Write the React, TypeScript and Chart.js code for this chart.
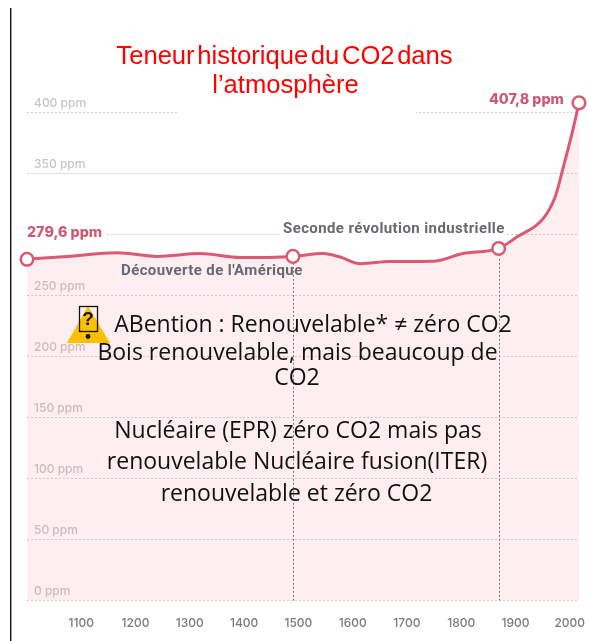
import React, { useEffect, useRef } from "react";
import { Chart, registerables } from "chart.js";

Chart.register(...registerables);

const years = [1000, 1074, 1166, 1240, 1319, 1393, 1490, 1546, 1577, 1614, 1669, 1748, 1803, 1869, 1903, 1951, 1973, 1988, 2004, 2017];
const ppm = [279.6, 282, 285, 282, 284.3, 281, 282, 284.3, 281.5, 276, 277.8, 278, 284.3, 288.5, 298, 313, 330.7, 355, 382.6, 407.8];
const markedYears = [1000, 1490, 1869, 2017];
const dropYears = [1490, 1869];
const xTicks = [1100, 1200, 1300, 1400, 1500, 1600, 1700, 1800, 1900, 2000];
const titleLines = ["Teneur historique du CO2 dans", "l’atmosphère"];
const noteLines = [
  "ABention : Renouvelable* ≠ zéro CO2",
  "Bois renouvelable, mais beaucoup de",
  "CO2",
  "Nucléaire (EPR) zéro CO2 mais pas",
  "renouvelable Nucléaire fusion(ITER)",
  "renouvelable et zéro CO2",
];
const startLabel = "279,6 ppm";
const endLabel = "407,8 ppm";
const eventLabels = ["Découverte de l'Amérique", "Seconde révolution industrielle"];

const LINE = "#d95a72";
const overlay = {
  id: "overlay",
  beforeDatasetsDraw(chart: any) {
    const { ctx, scales } = chart;
    const { x, y } = scales;
    ctx.save();
    // gaps of the gridlines around the pasted title and labels
    ctx.fillStyle = "#fff";
    ctx.fillRect(177, y.getPixelForValue(400) - 2, 239, 4);
    ctx.fillRect(26, y.getPixelForValue(300) - 2, 79, 4);
    ctx.fillRect(280, y.getPixelForValue(300) - 2, 227, 4);
    ctx.fillRect(577, 90, 12, 190);
    // drop lines
    ctx.strokeStyle = "#77777d";
    ctx.lineWidth = 1;
    ctx.setLineDash([2, 2]);
    dropYears.forEach((yr) => {
      const px = Math.round(x.getPixelForValue(yr)) + 0.5;
      ctx.beginPath();
      ctx.moveTo(px, y.getPixelForValue(280));
      ctx.lineTo(px, y.getPixelForValue(0));
      ctx.stroke();
    });
    ctx.restore();
  },
  afterDraw(chart: any) {
    const { ctx, scales } = chart;
    const { y } = scales;
    ctx.save();
    // page rule on the left
    ctx.fillStyle = "#111";
    ctx.fillRect(10, 8, 1.4, 633);
    // y tick labels, sitting above their gridlines (300 gives way to the start value)
    ctx.textBaseline = "middle";
    ctx.textAlign = "left";
    y.ticks.forEach((t: any) => {
      if (t.value === 300) return;
      ctx.font = "500 12px Inter";
      ctx.fillStyle = t.value > 300 ? "#c6c6c6" : "#c9bcc0";
      ctx.fillText(`${t.value} ppm`, 34, y.getPixelForValue(t.value) - 9);
    });
    // value labels
    ctx.font = "800 14.3px Inter";
    ctx.fillStyle = "#cc5a74";
    ctx.fillText(startLabel, 27, 233);
    ctx.fillText(endLabel, 489, 100);
    ctx.font = "700 15px Roboto";
    ctx.letterSpacing = "0.4px";
    ctx.fillStyle = "#686873";
    ctx.fillText(eventLabels[0], 121, 271);
    ctx.fillText(eventLabels[1], 283, 229);
    ctx.letterSpacing = "0px";
    // title
    ctx.textAlign = "center";
    ctx.fillStyle = "#ff0000";
    ctx.font = "25.6px 'Liberation Sans'";
    ctx.wordSpacing = "-4.5px";
    ctx.fillText(titleLines[0], 284.5, 56.5);
    ctx.wordSpacing = "0px";
    ctx.fillText(titleLines[1], 285.5, 86);
    // warning sign
    ctx.fillStyle = "#ffc000";
    ctx.beginPath();
    ctx.moveTo(88, 306);
    ctx.lineTo(110, 343);
    ctx.lineTo(67, 343);
    ctx.closePath();
    ctx.fill();
    ctx.strokeStyle = "#111";
    ctx.lineWidth = 1.3;
    ctx.strokeRect(79.5, 306.5, 18, 25);
    ctx.fillStyle = "#111";
    ctx.font = "700 19px 'Liberation Sans'";
    ctx.fillText("?", 88, 320);
    ctx.beginPath();
    ctx.arc(88, 336.5, 2.4, 0, Math.PI * 2);
    ctx.fill();
    // note
    ctx.fillStyle = "#111";
    ctx.font = "23px 'Open Sans'";
    const noteY = [325.5, 353.5, 378.5, 431.5, 462.5, 494.5];
    const noteX = [313, 297.5, 297, 298, 297, 296.5];
    noteLines.forEach((l, i) => ctx.fillText(l, noteX[i], noteY[i]));
    ctx.restore();
  },
};

export default function App() {
  const ref = useRef<HTMLCanvasElement>(null);
  useEffect(() => {
    const chart = new Chart(ref.current!, {
      type: "line",
      data: {
        datasets: [
          {
            data: years.map((yr, i) => ({ x: yr, y: ppm[i] })),
            borderColor: LINE,
            borderWidth: 3,
            backgroundColor: "rgba(240,70,90,0.09)",
            fill: "origin",
            cubicInterpolationMode: "monotone",
            pointRadius: years.map((yr) => (markedYears.includes(yr) ? 6.3 : 0)),
            pointBackgroundColor: "#fff",
            pointBorderColor: LINE,
            pointBorderWidth: 2.5,
            clip: false,
          },
        ],
      },
      options: {
        responsive: false,
        animation: false,
        layout: { padding: { left: 27, right: 10, top: 88, bottom: 0 } },
        plugins: { legend: { display: false }, tooltip: { enabled: false }, title: { display: false } },
        scales: {
          x: {
            type: "linear",
            min: 1000,
            max: 2017,
            afterBuildTicks: (s: any) => {
              s.ticks = xTicks.map((value) => ({ value }));
            },
            afterFit: (s: any) => {
              s.height = 40.5;
              s.paddingLeft = 0;
              s.paddingRight = 0;
            },
            grid: { display: false },
            border: { display: false },
            ticks: {
              autoSkip: false,
              maxRotation: 0,
              padding: 8,
              color: "#7a7a7a",
              font: { family: "Inter", size: 12, weight: "500" },
              callback: (v: any) => String(v),
            },
          },
          y: {
            min: 0,
            max: 420,
            afterFit: (s: any) => {
              s.width = 0;
            },
            afterBuildTicks: (s: any) => {
              s.ticks = s.ticks.filter((t: any) => t.value <= 400);
            },
            grid: { color: "#d2d0d0", lineWidth: 1, tickLength: 0, drawTicks: false },
            border: { display: false, dash: [2, 2] },
            ticks: { display: false, stepSize: 50 },
          },
        },
      },
      plugins: [overlay],
    } as any);
    return () => chart.destroy();
  }, []);
  return (
    <div style={{ position: "absolute", left: 0, top: 0, width: 589, height: 641, background: "#fff" }}>
      <canvas ref={ref} width={589} height={641} style={{ display: "block" }} />
    </div>
  );
}
